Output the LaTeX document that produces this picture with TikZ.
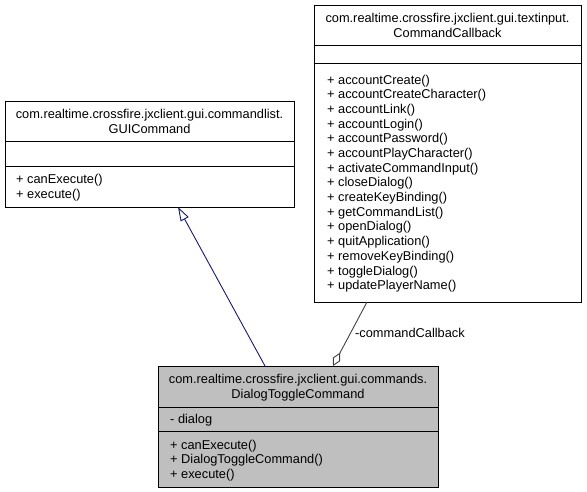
\documentclass[tikz,border=0pt]{standalone}
\usepackage{fontspec}
\setmainfont{Liberation Sans}
\usetikzlibrary{arrows.meta,calc}
\definecolor{inhcol}{HTML}{191970}
\definecolor{aggcol}{HTML}{404040}
\definecolor{boxfill}{HTML}{BFBFBF}
\begin{document}
\begin{tikzpicture}[x=1pt,y=-1pt,
  classbox/.style={draw=black, line width=0.9pt, inner sep=0pt, outer sep=0pt, anchor=north west, fill=white},
  divider/.style={draw=black, line width=0.9pt},
  txt/.style={font=\fontsize{12.8}{14.67}\selectfont, inner sep=0pt, text=black},
  inh/.style={draw=inhcol, line width=0.9pt, -{Triangle[open, length=14pt, width=9pt, fill=white]}},
  agg/.style={draw=aggcol, line width=0.9pt, {Diamond[open, length=15pt, width=8pt, fill=white]}-}
]
\useasboundingbox (0,0) rectangle (587,492);

% GUICommand
\node[classbox, minimum width=289pt, minimum height=106pt] (gui) at (5,101) {};
\draw[divider] ($(gui.north west)+(0,40)$) -- ($(gui.north east)+(0,40)$);
\draw[divider] ($(gui.north west)+(0,65)$) -- ($(gui.north east)+(0,65)$);
\node[txt, anchor=base] (guih1) at (149.5,118.5) {com.realtime.crossfire.jxclient.gui.commandlist.};
\node[txt, anchor=base] (guih2) at (149.5,133.2) {GUICommand};
\node[txt, anchor=base west] (guim1) at (16,183.5) {+ canExecute()};
\node[txt, anchor=base west] (guim2) at (16,198.2) {+ execute()};

% CommandCallback
\node[classbox, minimum width=267pt, minimum height=297pt] (cc) at (314,5) {};
\draw[divider] ($(cc.north west)+(0,40)$) -- ($(cc.north east)+(0,40)$);
\draw[divider] ($(cc.north west)+(0,58)$) -- ($(cc.north east)+(0,58)$);
\node[txt, anchor=base] (cch1) at (447.5,22.5) {com.realtime.crossfire.jxclient.gui.textinput.};
\node[txt, anchor=base] (cch2) at (447.5,37.2) {CommandCallback};
\foreach \m [count=\i from 0] in {accountCreate,accountCreateCharacter,accountLink,accountLogin,accountPassword,accountPlayCharacter,activateCommandInput,closeDialog,createKeyBinding,getCommandList,openDialog,quitApplication,removeKeyBinding,toggleDialog,updatePlayerName}
  \node[txt, anchor=base west] (ccm\i) at (327,{84.3+\i*14.67}) {+ \m()};

% DialogToggleCommand
\node[classbox, fill=boxfill, minimum width=280pt, minimum height=121pt] (dtc) at (158,366) {};
\draw[divider] ($(dtc.north west)+(0,41)$) -- ($(dtc.north east)+(0,41)$);
\draw[divider] ($(dtc.north west)+(0,65)$) -- ($(dtc.north east)+(0,65)$);
\node[txt, anchor=base] (dtch1) at (298,383.5) {com.realtime.crossfire.jxclient.gui.commands.};
\node[txt, anchor=base] (dtch2) at (298,398.2) {DialogToggleCommand};
\node[txt, anchor=base west] (dtca1) at (170,423.5) {- dialog};
\node[txt, anchor=base west] (dtcm1) at (170,449) {+ canExecute()};
\node[txt, anchor=base west] (dtcm2) at (170,463.7) {+ DialogToggleCommand()};
\node[txt, anchor=base west] (dtcm3) at (170,478.4) {+ execute()};

% connectors
\draw[inh] ($(dtc.north west)+(107,0)$) -- ($(gui.south west)+(173,0)$);
\draw[agg] ($(dtc.north west)+(175,0)$) -- ($(cc.south west)+(53,0)$);
\node[txt, anchor=west] (lbl) at (355,333) {-commandCallback};
\end{tikzpicture}
\end{document}
